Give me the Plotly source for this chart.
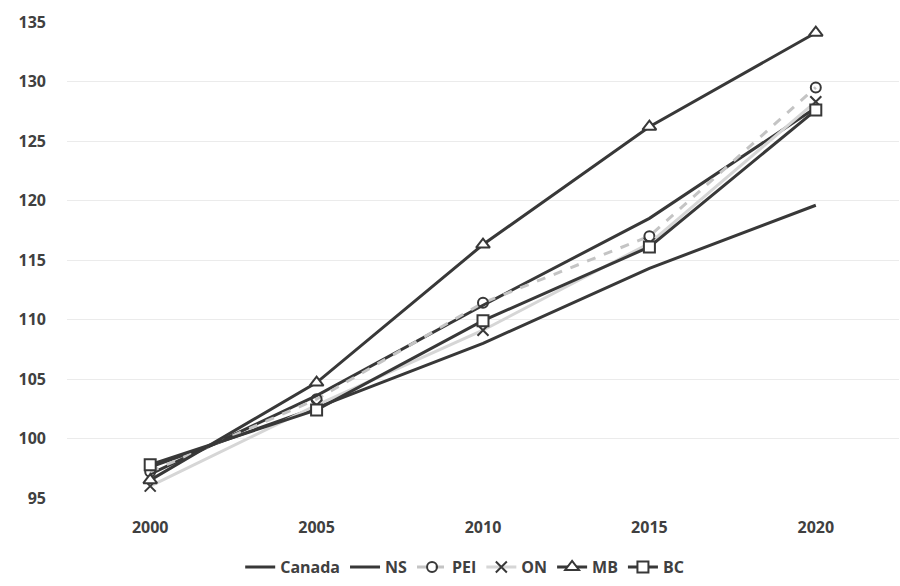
import plotly.graph_objects as go

years = ["2000", "2005", "2010", "2015", "2020"]
canada = [97.6, 102.6, 108.0, 114.3, 119.6]
ns = [97.0, 103.6, 111.2, 118.5, 127.8]
pei = [97.2, 103.3, 111.4, 117.0, 129.5]
on = [96.0, 102.8, 109.1, 116.4, 128.3]
mb = [96.5, 104.7, 116.3, 126.2, 134.1]
bc = [97.8, 102.4, 109.9, 116.1, 127.6]
y_ticks = [95, 100, 105, 110, 115, 120, 125, 130, 135]

dark = "#383838"
fig = go.Figure()
fig.add_trace(go.Scatter(x=years, y=canada, name="Canada", mode="lines",
                         line=dict(color=dark, width=3)))
fig.add_trace(go.Scatter(x=years, y=ns, name="NS", mode="lines",
                         line=dict(color=dark, width=3)))
fig.add_trace(go.Scatter(x=years, y=pei, name="PEI", mode="lines+markers",
                         line=dict(color="#c4c4c4", width=3, dash="dash"),
                         marker=dict(symbol="circle-open", size=10, color=dark, line=dict(width=2))))
fig.add_trace(go.Scatter(x=years, y=on, name="ON", mode="lines+markers",
                         line=dict(color="#d6d6d6", width=3),
                         marker=dict(symbol="x-thin-open", size=11, color=dark, line=dict(width=2, color=dark))))
fig.add_trace(go.Scatter(x=years, y=mb, name="MB", mode="lines+markers",
                         line=dict(color=dark, width=3),
                         marker=dict(symbol="triangle-up", size=12, color="white", line=dict(width=2, color=dark))))
fig.add_trace(go.Scatter(x=years, y=bc, name="BC", mode="lines+markers",
                         line=dict(color=dark, width=3),
                         marker=dict(symbol="square", size=11, color="white", line=dict(width=2, color=dark))))

fam = "'Open Sans', sans-serif"
tf = dict(family=fam, size=16, color="#404040", weight="bold")
fig.update_layout(
    width=900, height=586,
    margin=dict(l=67, r=1, t=22, b=88),
    paper_bgcolor="white", plot_bgcolor="white",
    font=dict(family=fam, size=16, color="#404040"),
    showlegend=True,
    legend=dict(orientation="h", x=0.478, xanchor="center", y=-0.145, yanchor="middle",
                font=tf, itemwidth=30, tracegroupgap=0),
    xaxis=dict(type="category", range=[-0.5, 4.5], showgrid=False, zeroline=False, showline=False,
               tickfont=tf, ticklabelstandoff=18),
    yaxis=dict(range=[95, 135], tickvals=y_ticks, showgrid=True, gridcolor="#ebebeb", gridwidth=1,
               zeroline=False, showline=False, tickfont=tf, ticklabelstandoff=20),
)
fig.write_html("out.html")
